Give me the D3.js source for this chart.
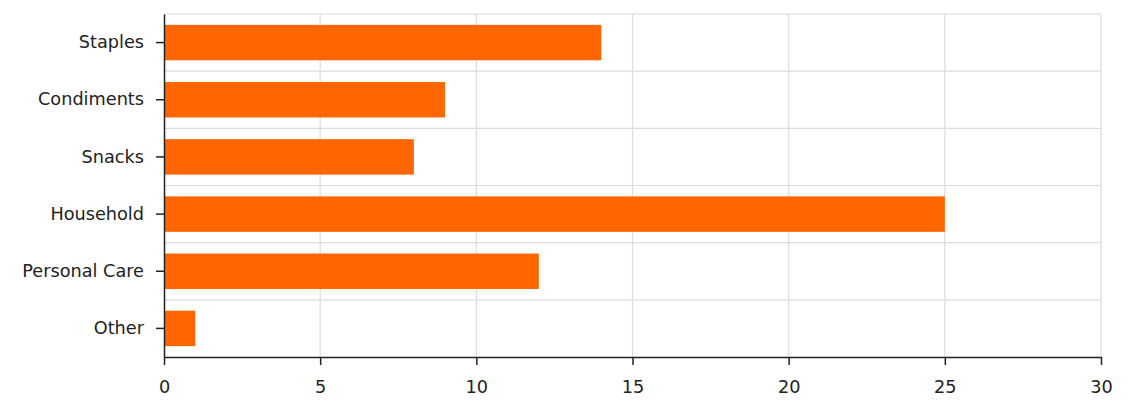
<!doctype html>
<html>
<head>
  <script src="https://cdnjs.cloudflare.com/ajax/libs/d3/7.8.5/d3.min.js"></script>
  <style>
    body { margin: 0; background: #fff; }
    svg { display: block; }
    .tick text { font-family: "DejaVu Sans", sans-serif; font-size: 17.7px; fill: #222; }
  </style>
</head>
<body>
<svg width="1131" height="415"></svg>
<script>
  // data
  var categories = ["Staples", "Condiments", "Snacks", "Household", "Personal Care", "Other"];
  var values = [14, 9, 8, 25, 12, 1];
  var xTicks = [0, 5, 10, 15, 20, 25, 30];

  var margin = {top: 14, right: 30, bottom: 58, left: 164};
  var svg = d3.select("svg");
  var width = 1131 - margin.left - margin.right;
  var height = 415 - margin.top - margin.bottom;
  var g = svg.append("g").attr("transform", "translate(" + margin.left + "," + margin.top + ")");

  var x = d3.scaleLinear().domain([0, 30]).range([0, width]);
  var y = d3.scaleBand().domain(categories).range([0, height]).paddingInner(0.38).paddingOuter(0.19);

  // grid
  var bounds = d3.range(categories.length).map(i => i * height / categories.length);
  g.selectAll(".hgrid").data(bounds).enter().append("line")
    .attr("x1", 0).attr("x2", width)
    .attr("y1", d => d).attr("y2", d => d)
    .attr("stroke", "#dcdcdc").attr("stroke-width", 1.2);
  g.selectAll(".vgrid").data(xTicks.slice(1)).enter().append("line")
    .attr("x1", d => x(d)).attr("x2", d => x(d))
    .attr("y1", 0).attr("y2", height)
    .attr("stroke", "#dcdcdc").attr("stroke-width", 1.2);

  // bars
  g.selectAll(".bar").data(values).enter().append("rect")
    .attr("x", 0)
    .attr("y", (d, i) => y(categories[i]))
    .attr("width", d => x(d))
    .attr("height", y.bandwidth())
    .attr("fill", "#ff6600");

  // axes
  var xAxis = g.append("g").attr("transform", "translate(0," + height + ")")
    .call(d3.axisBottom(x).tickValues(xTicks).tickSize(8).tickPadding(15).tickSizeOuter(0));
  var yAxis = g.append("g")
    .call(d3.axisLeft(y).tickSize(8).tickPadding(12).tickSizeOuter(0));
  [xAxis, yAxis].forEach(a => {
    a.select(".domain").attr("stroke", "#222").attr("stroke-width", 1.5);
    a.selectAll(".tick line").attr("stroke", "#222").attr("stroke-width", 1.5);
  });
</script>
</body>
</html>
